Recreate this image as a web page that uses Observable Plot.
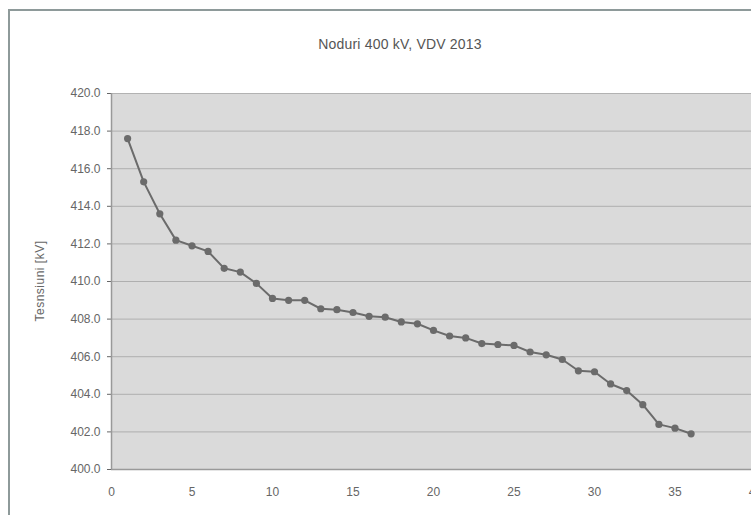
<!DOCTYPE html>
<html>
<head>
<meta charset="utf-8">
<script src="https://cdn.jsdelivr.net/npm/d3@7"></script>
<script src="https://cdn.jsdelivr.net/npm/@observablehq/plot@0.6"></script>
<style>
  html, body { margin: 0; padding: 0; background: #fff; }
  #wrap { position: relative; width: 751px; height: 515px; overflow: hidden; font-family: "Liberation Sans", Arial, sans-serif; }
  #frame { position: absolute; left: 8px; top: 9px; width: 760px; height: 520px; border-left: 2px solid #8e9a9a; border-top: 2px solid #8e9a9a; }
  #title { position: absolute; left: 0; width: 800px; top: 36px; text-align: center; font-size: 14px; color: #555; letter-spacing: 0.2px; z-index: 2; }
  #ylabel { position: absolute; left: 40px; top: 281px; transform: translate(-50%, -50%) rotate(-90deg); white-space: nowrap; font-size: 12px; color: #666; z-index: 2; letter-spacing: 0.5px; }
  #chart { position: absolute; left: 0; top: 0; }
</style>
</head>
<body>
<div id="wrap">
  <div id="frame"></div>
  <div id="title"></div>
  <div id="ylabel"></div>
  <div id="chart"></div>
</div>
<script>
const titleText = "Noduri 400 kV, VDV 2013";
const yLabel = "Tesnsiuni [kV]";
const nodes = [1,2,3,4,5,6,7,8,9,10,11,12,13,14,15,16,17,18,19,20,21,22,23,24,25,26,27,28,29,30,31,32,33,34,35,36];
const voltages = [417.6,415.3,413.6,412.2,411.9,411.6,410.7,410.5,409.9,409.1,409.0,409.0,408.55,408.5,408.35,408.15,408.1,407.85,407.75,407.4,407.1,407.0,406.7,406.65,406.6,406.25,406.1,405.85,405.25,405.2,404.55,404.2,403.45,402.4,402.2,401.9];
const xTicks = [0,5,10,15,20,25,30,35,40];
const yTicks = [400,402,404,406,408,410,412,414,416,418,420];

const data = nodes.map((n, i) => ({node: n, v: voltages[i]}));
document.getElementById("title").textContent = titleText;
document.getElementById("ylabel").textContent = yLabel;

const chart = Plot.plot({
  width: 751,
  height: 515,
  marginLeft: 111,
  marginRight: -4,
  marginTop: 93,
  marginBottom: 46,
  style: {fontFamily: "Liberation Sans, Arial, sans-serif", fontSize: "12px", color: "#666", background: "transparent", overflow: "visible"},
  x: {domain: [0, 40], ticks: xTicks, tickSize: 0, tickPadding: 18, label: null},
  y: {domain: [400, 420], ticks: yTicks, tickFormat: d3.format(".1f"), tickSize: 4, tickPadding: 7, label: null},
  marks: [
    Plot.frame({fill: "#dadada", stroke: null}),
    Plot.gridY(yTicks, {stroke: "#a4a4a4", strokeOpacity: 0.8}),
    Plot.ruleX([0], {stroke: "#999", strokeWidth: 1.5}),
    Plot.ruleY([400], {stroke: "#999", strokeWidth: 1.5}),
    Plot.line(data, {x: "node", y: "v", stroke: "#6b6b6b", strokeWidth: 2}),
    Plot.dot(data, {x: "node", y: "v", r: 3.6, fill: "#6b6b6b", stroke: "none"})
  ]
});
document.getElementById("chart").appendChild(chart);
</script>
</body>
</html>
